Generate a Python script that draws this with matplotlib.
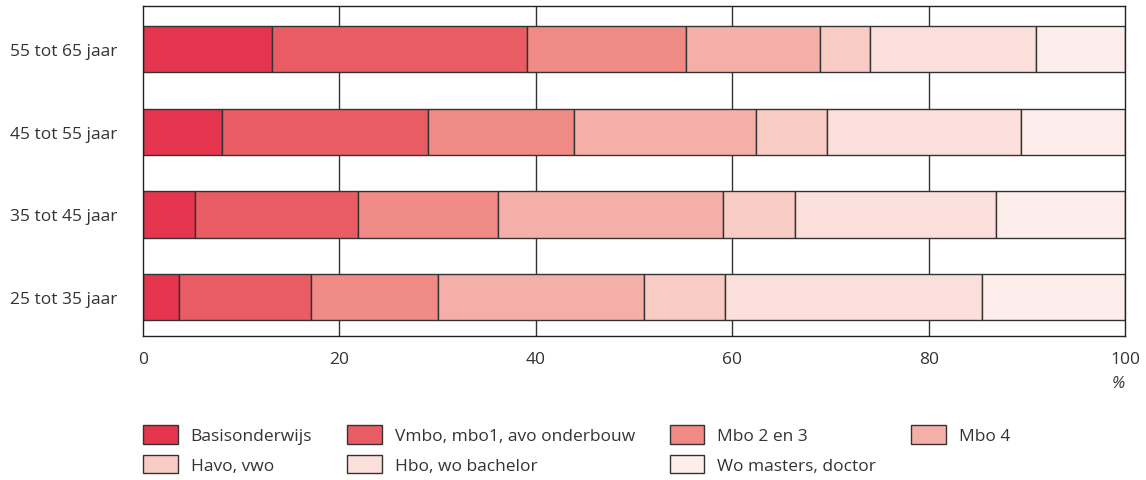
import matplotlib
matplotlib.use("Agg")
import matplotlib.pyplot as plt
from matplotlib.patches import Patch

plt.rcParams['font.family'] = ['Open Sans', 'DejaVu Sans']

groups = ["25 tot 35 jaar", "35 tot 45 jaar", "45 tot 55 jaar", "55 tot 65 jaar"]
levels = ["Basisonderwijs", "Vmbo, mbo1, avo onderbouw", "Mbo 2 en 3", "Mbo 4",
          "Havo, vwo", "Hbo, wo bachelor", "Wo masters, doctor"]
# share per level (%), one list per age group (same order as groups)
values = [
    [3.7, 13.4, 12.9, 21.0, 8.3, 26.1, 14.6],
    [5.3, 16.6, 14.2, 23.0, 7.3, 20.5, 13.1],
    [8.0, 21.0, 14.9, 18.5, 7.3, 19.7, 10.6],
    [13.1, 26.0, 16.2, 13.6, 5.1, 16.9, 9.1],
]
colors = ["#E4344E", "#E95C63", "#EF8A84", "#F4B0A8", "#F8CCC5", "#FADFDA", "#FDEEEB"]
xticks = [0, 20, 40, 60, 80, 100]

fig = plt.figure(figsize=(11.46, 4.81), dpi=100)
ax = fig.add_axes([0.1248, 0.2994, 0.8569, 0.686])

for g in range(len(groups)):
    left = 0
    for i in range(len(levels)):
        v = values[g][i]
        ax.barh(g, v, left=left, height=0.56, color=colors[i],
                edgecolor="#333333", linewidth=1, zorder=3)
        left += v

for x in xticks[1:-1]:
    ax.axvline(x, color="#333333", linewidth=1, zorder=1)

ax.set_xlim(0, 100)
ax.set_ylim(-0.47, 3.52)
ax.set_yticks(range(len(groups)))
ax.set_yticklabels(groups)
ax.set_xticks(xticks)
ax.tick_params(length=0, labelsize=12.5, colors="#333333")
ax.tick_params(axis="y", pad=18.5)
ax.tick_params(axis="x", pad=11)
for s in ax.spines.values():
    s.set_color("#222222")
    s.set_linewidth(1)
    s.set_zorder(4)

fig.text(1118 / 1146, 1 - 384 / 481, "%", ha="center", va="center", fontsize=12,
         style="italic", color="#333333")

handles = [Patch(facecolor=c, edgecolor="#333333", linewidth=1) for c in colors]
order = [0, 4, 1, 5, 2, 6, 3]
fig.legend([handles[i] for i in order], [levels[i] for i in order],
           ncol=4, loc="upper left", bbox_to_anchor=(143 / 1146, 1 - 426 / 481),
           frameon=False, fontsize=12.5, handlelength=2.0, handleheight=1.27,
           handletextpad=0.75, columnspacing=2.0, labelspacing=0.62,
           borderaxespad=0, borderpad=0, labelcolor="#333333")

fig.savefig("out.png", dpi=100)
